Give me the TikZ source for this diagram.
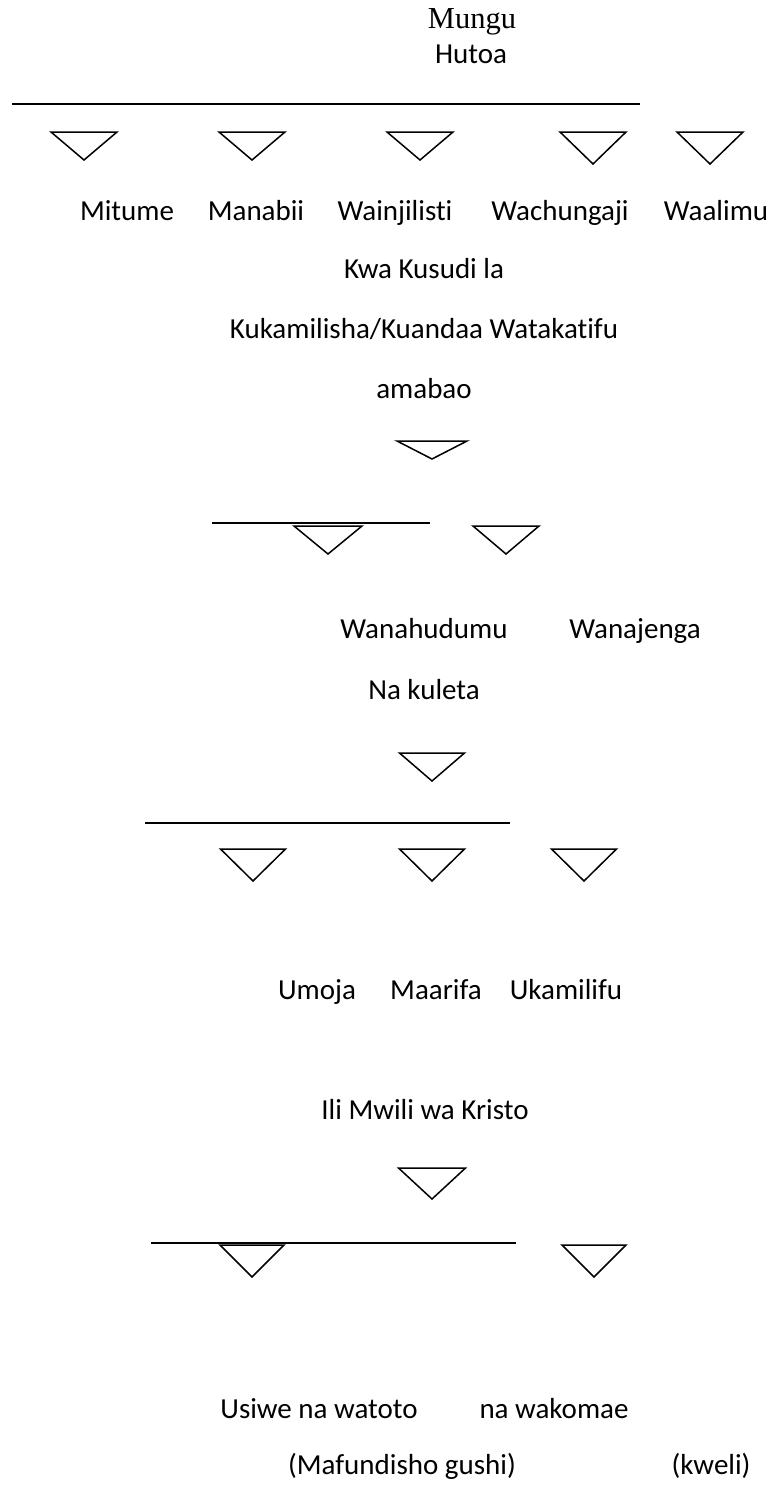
\documentclass[tikz,border=0pt]{standalone}
\usepackage{fontspec}
\newfontfamily\bodyfont[Ligatures=NoCommon]{Carlito}
\newfontfamily\godfont{Liberation Serif}
% centre x, top y, width, height
\newcommand{\downtri}[4]{\draw[tri] (#1-#3/2,#2) -- (#1+#3/2,#2) -- (#1,#2+#4) -- cycle;}

\begin{document}
\begin{tikzpicture}[x=1pt,y=-1pt,
    lbl/.style={font=\bodyfont\fontsize{29}{34}\selectfont, inner sep=0pt, anchor=base},
    godlbl/.style={font=\godfont\fontsize{30.5}{36}\selectfont, inner sep=0pt, anchor=base},
    tri/.style={line width=1.5pt, line join=miter},
    bar/.style={line width=1.8pt}]
            \useasboundingbox[fill=white] (0,0) rectangle (773,1486);
            \node[godlbl] (mungu) at (472,28) {Mungu};
            \node[lbl] (hutoa) at (471,63) {Hutoa};
            \draw[bar] (12,104) -- (640,104);
            \downtri{84}{132}{66}{28} \downtri{252}{132}{66}{28} \downtri{420}{132}{66}{28}
            \downtri{593}{132}{66}{32} \downtri{710}{132}{66}{32}
            \node[lbl] (mitume) at (127,220) {Mitume};
            \node[lbl] (manabii) at (256,220) {Manabii};
            \node[lbl] (wainjilisti) at (395,220) {Wainjilisti};
            \node[lbl] (wachungaji) at (560,220) {Wachungaji};
            \node[lbl] (waalimu) at (716,220) {Waalimu};
            \node[lbl] (kusudi) at (424,278) {Kwa Kusudi la};
            \node[lbl] (kuandaa) at (424,338) {Kukamilisha/Kuandaa Watakatifu};
            \node[lbl] (amabao) at (424,398) {amabao};
            \downtri{432}{441}{70}{18}
            \draw[bar] (212,523) -- (430,523);
            \downtri{328}{526}{68}{28} \downtri{506}{526}{66}{28}
            \node[lbl] (wanahudumu) at (424,638) {Wanahudumu};
            \node[lbl] (wanajenga) at (635,638) {Wanajenga};
            \node[lbl] (kuleta) at (424,699) {Na kuleta};
            \downtri{432}{753}{65}{28}
            \draw[bar] (145,823) -- (510,823);
            \downtri{253}{849}{65}{32} \downtri{432}{849}{65}{32} \downtri{584}{849}{65}{32}
            \node[lbl] (umoja) at (317,999) {Umoja};
            \node[lbl] (maarifa) at (436,999) {Maarifa};
            \node[lbl] (ukamilifu) at (566,999) {Ukamilifu};
            \node[lbl] (mwili) at (425,1119) {Ili Mwili wa Kristo};
            \downtri{432}{1168}{67}{31}
            \draw[bar] (151,1243) -- (516,1243);
            \downtri{252}{1245}{64}{32} \downtri{594}{1245}{64}{32}
            \node[lbl] (watoto) at (319,1418) {Usiwe na watoto};
            \node[lbl] (wakomae) at (554,1418) {na wakomae};
            \node[lbl] (gushi) at (402,1474) {(Mafundisho gushi)};
            \node[lbl] (kweli) at (711,1474) {(kweli)};
        \end{tikzpicture}
\end{document}
